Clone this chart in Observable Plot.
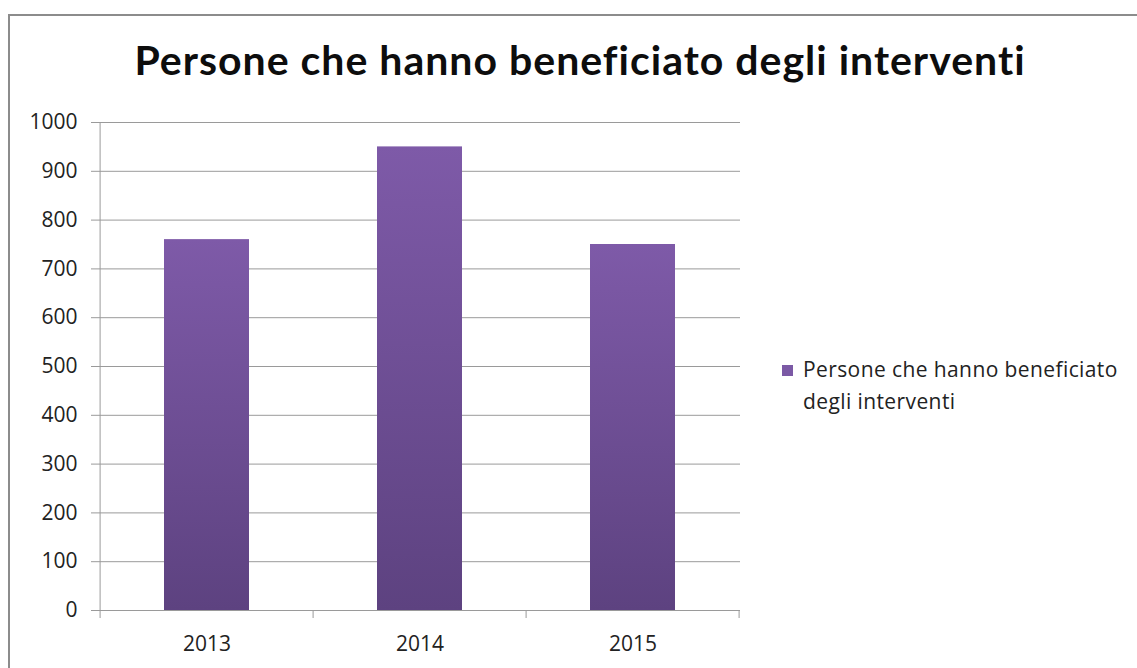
<!DOCTYPE html>
<html>
<head>
<meta charset="utf-8">
<script src="https://cdn.jsdelivr.net/npm/d3@7"></script>
<script src="https://cdn.jsdelivr.net/npm/@observablehq/plot@0.6"></script>
<style>
  html, body { margin: 0; padding: 0; background: #fff; overflow: hidden; }
  body { width: 1137px; height: 668px; position: relative; font-family: "Open Sans", sans-serif; }
  #frame { position: absolute; left: 8px; top: 14px; width: 1150px; height: 680px; border: 2px solid #8c8c8c; box-sizing: border-box; }
  #title { position: absolute; left: 0; width: 1160px; top: 35px; text-align: center; font-family: Lato, sans-serif; font-weight: 700; font-size: 41px; letter-spacing: 1px; color: #0d0d0d; }
  #chart { position: absolute; left: 0; top: 0; }
  #legend { position: absolute; left: 782px; top: 353px; font-size: 21px; letter-spacing: 0.4px; color: #222; line-height: 32px; }
  #legend .sw { display: inline-block; width: 11px; height: 11px; background: #7b59a5; margin-right: 10px; vertical-align: 1px; }
  #legend .l2 { padding-left: 21px; }
</style>
</head>
<body>
<div id="frame"></div>
<div id="title"></div>
<div id="chart"></div>
<div id="legend"></div>
<script>
const titleText = "Persone che hanno beneficiato degli interventi";
const legendLines = ["Persone che hanno beneficiato", "degli interventi"];
const years = ["2013", "2014", "2015"];
const values = [760, 950, 750];
const yTicks = [0, 100, 200, 300, 400, 500, 600, 700, 800, 900, 1000];

const data = years.map((y, i) => ({year: y, value: values[i]}));

document.getElementById("title").textContent = titleText;
const lg = document.getElementById("legend");
const l1 = document.createElement("div");
const sw = document.createElement("span"); sw.className = "sw";
l1.appendChild(sw); l1.appendChild(document.createTextNode(legendLines[0]));
const l2 = document.createElement("div"); l2.className = "l2"; l2.textContent = legendLines[1];
lg.appendChild(l1); lg.appendChild(l2);

const padInner = 0.6;

const defs = () => {
  const svg = d3.create("svg:defs");
  const g = svg.append("linearGradient").attr("id", "barGrad").attr("x1", 0).attr("y1", 0).attr("x2", 0).attr("y2", 1);
  g.append("stop").attr("offset", "0%").attr("stop-color", "#7e5aa8");
  g.append("stop").attr("offset", "100%").attr("stop-color", "#5d4280");
  return svg.node();
};

const axisLines = (index, scales, values, dims) => {
  const x = scales.x;
  const step = x(years[1]) - x(years[0]);
  const bw = step * (1 - padInner);
  const gap = step * padInner;
  const bounds = years.map(y => x(y) - gap / 2);
  bounds.push(x(years[years.length - 1]) + bw + gap / 2);
  const y0 = dims.height - dims.marginBottom;
  const g = d3.create("svg:g").attr("stroke", "#9a9a9a").attr("stroke-width", 1);
  g.selectAll("line.t").data(bounds).join("line")
    .attr("x1", d => d).attr("x2", d => d)
    .attr("y1", y0).attr("y2", y0 + 8);
  g.append("line")
    .attr("x1", bounds[0]).attr("x2", bounds[0])
    .attr("y1", dims.marginTop).attr("y2", y0);
  return g.node();
};

const plot = Plot.plot({
  width: 760,
  height: 668,
  marginLeft: 99,
  marginRight: 20,
  marginTop: 122,
  marginBottom: 58,
  style: {fontFamily: "'Open Sans', sans-serif", fontSize: "21px", color: "#222", background: "transparent"},
  x: {domain: years, paddingInner: padInner, paddingOuter: padInner / 2, label: null},
  y: {domain: [0, 1000], label: null},
  marks: [
    defs,
    Plot.gridY(yTicks, {stroke: "#9a9a9a", strokeOpacity: 1}),
    Plot.axisY(yTicks, {tickSize: 8, tickPadding: 14, stroke: "#9a9a9a", fill: "#222", fontSize: 21, tickFormat: d => String(d)}),
    Plot.axisX({tickSize: 0, tickPadding: 26, fill: "#222", fontSize: 21}),
    Plot.rectY(data, {x: "year", y: "value", fill: "url(#barGrad)"}),
    Plot.ruleY([0], {stroke: "#9a9a9a"}),
    axisLines
  ]
});
document.getElementById("chart").appendChild(plot);
</script>
</body>
</html>
